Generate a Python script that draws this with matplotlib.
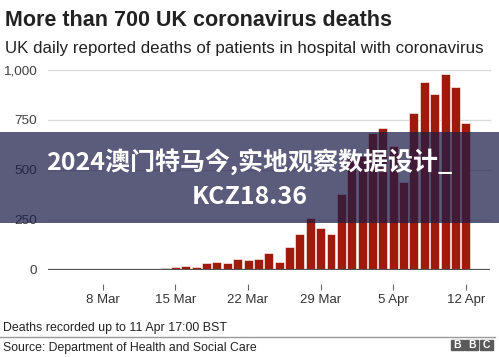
import numpy as np
import pandas as pd
import matplotlib.pyplot as plt
import matplotlib.dates as mdates
from matplotlib.patches import Rectangle

# daily reported deaths, 5 Mar - 12 Apr 2020
dates = pd.date_range("2020-03-05", "2020-04-12", freq="D")
deaths = [1, 1, 0, 1, 1, 2, 2, 2, 1,
          10, 14, 20, 16, 33, 40, 33, 56, 48, 54, 87, 41, 115, 181, 260,
          209, 180, 381, 563, 569, 684, 708, 621, 439, 786, 938, 881, 980,
          917, 737]
tick_dates = pd.to_datetime(["2020-03-08", "2020-03-15", "2020-03-22",
                             "2020-03-29", "2020-04-05", "2020-04-12"])
tick_labels = ["8 Mar", "15 Mar", "22 Mar", "29 Mar", "5 Apr", "12 Apr"]
y_ticks = [0, 250, 500, 750, 1000]
y_labels = ["0", "250", "500", "750", "1,000"]

plt.rcParams['font.family'] = ['Liberation Sans', 'DejaVu Sans']

W, H = 499, 357
fig = plt.figure(figsize=(W / 100, H / 100), dpi=100)
fig.patch.set_facecolor("white")

ax = fig.add_axes([48 / W, 1 - 270 / H, (490 - 48) / W, 200 / H])
ax.bar(dates, deaths, width=0.86, color="#a01a0b", edgecolor="white",
       linewidth=0.4, zorder=3)

ax.set_ylim(0, 1000)
ax.set_xlim(pd.Timestamp("2020-03-02 17:00"), pd.Timestamp("2020-04-14 08:00"))
ax.set_yticks(y_ticks)
ax.set_yticklabels(y_labels)
ax.set_xticks(tick_dates)
ax.set_xticklabels(tick_labels)

for v in y_ticks[1:]:
    ax.axhline(v, color="#dcdcdc", linewidth=1, zorder=1, clip_on=False)
ax.axhline(0, color="#555555", linewidth=1.6, zorder=4)

for s in ax.spines.values():
    s.set_visible(False)
ax.spines['bottom'].set_position(('outward', 10))
ax.tick_params(axis='y', length=0, pad=8, labelsize=9.7, labelcolor="#404040")
ax.tick_params(axis='x', length=4, width=0.8, color="#666666", pad=3,
               labelsize=9.5, labelcolor="#333333")

fig.text(5 / W, 1 - 25.5 / H, "More than 700 UK coronavirus deaths",
         fontsize=15.5, fontweight="bold", color="#222222")
fig.text(5 / W, 1 - 53 / H,
         "UK daily reported deaths of patients in hospital with coronavirus",
         fontsize=12.2, color="#222222")
fig.text(3 / W, 1 - 331 / H, "Deaths recorded up to 11 Apr 17:00 BST",
         fontsize=8.9, color="#222222")
fig.add_artist(plt.Line2D([0, 495 / W], [1 - 337 / H, 1 - 337 / H],
                          color="#999999", linewidth=1))
fig.text(3 / W, 1 - 351 / H, "Source: Department of Health and Social Care",
         fontsize=8.8, color="#222222")

# BBC logo
for i, ch in enumerate("BBC"):
    x0 = 451 + i * 14.3
    fig.add_artist(Rectangle((x0 / W, 1 - 350 / H), 13 / W, 10.5 / H,
                             transform=fig.transFigure, color="#5a5a5a"))
    fig.text((x0 + 6.5) / W, 1 - 344.8 / H, ch, fontsize=7.5, fontweight="bold",
             color="white", ha="center", va="center")

# overlay banner
fig.add_artist(Rectangle((0, 1 - 223 / H), 1, 91 / H, transform=fig.transFigure,
                         facecolor="#1c1c48", alpha=0.72, zorder=10))
fig.text(0.5, 1 - 162 / H, "2024澳门特马今,实地观察数据设计_", fontsize=18,
         fontweight="bold", color="white", ha="center", va="center",
         family=['Noto Sans CJK SC', 'DejaVu Sans'], zorder=11)
fig.text(0.5, 1 - 197 / H, "KCZ18.36", fontsize=18,
         fontweight="bold", color="white", ha="center", va="center",
         family=['Noto Sans CJK SC', 'DejaVu Sans'], zorder=11)

fig.savefig("out.png", dpi=100, facecolor="white")
